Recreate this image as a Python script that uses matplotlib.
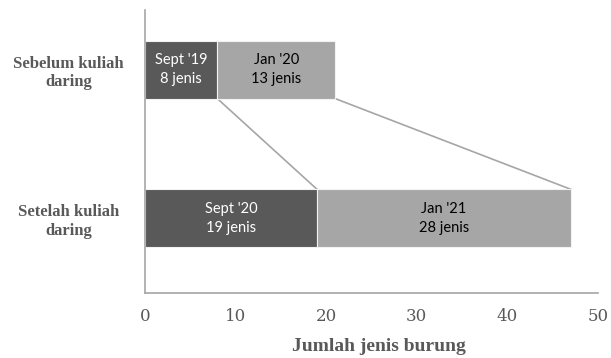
import matplotlib.pyplot as plt

categories = ['Setelah kuliah\ndaring', 'Sebelum kuliah\ndaring']
first_vals = [19, 8]
second_vals = [28, 13]
first_labels = ["Sept '20\n19 jenis", "Sept '19\n8 jenis"]
second_labels = ["Jan '21\n28 jenis", "Jan '20\n13 jenis"]

dark = '#595959'
light = '#a6a6a6'
bar_h = 0.39

fig = plt.figure(figsize=(6.11, 3.58), dpi=100)
ax = fig.add_axes([0.237, 0.182, 0.742, 0.79])

pos = [0, 1]
ax.barh(pos, first_vals, height=bar_h, color=dark, edgecolor='#f2f2f2', linewidth=0.8)
ax.barh(pos, second_vals, left=first_vals, height=bar_h, color=light, edgecolor='#f2f2f2', linewidth=0.8)

for p, a, b, la, lb in zip(pos, first_vals, second_vals, first_labels, second_labels):
    ax.text(a / 2, p, la, ha='center', va='center', color='white',
            fontsize=10.5, family='Lato', linespacing=1.5)
    ax.text(a + b / 2, p, lb, ha='center', va='center', color='black',
            fontsize=10.5, family='Lato', linespacing=1.5)

# connector lines between the bars
for i in range(2):
    x_top = first_vals[1] + (second_vals[1] if i else 0)
    x_bot = first_vals[0] + (second_vals[0] if i else 0)
    ax.plot([x_top, x_bot], [1 - bar_h / 2, bar_h / 2], color=light, lw=1.2, zorder=0)

ax.set_xlim(0, 50)
ax.set_ylim(-0.5, 1.4)
ax.set_xticks(range(0, 51, 10))
ax.set_yticks(pos)
ax.set_yticklabels(categories, fontsize=12, fontweight='bold', family='Liberation Serif',
                   color=dark, linespacing=1.2)
for t in ax.get_yticklabels():
    t.set_horizontalalignment('center')
ax.tick_params(axis='y', length=0, pad=55)
ax.tick_params(axis='x', length=0, pad=11, labelsize=12, labelcolor=dark)
for t in ax.get_xticklabels():
    t.set_family('DejaVu Serif')
ax.set_xlabel('Jumlah jenis burung', fontsize=14, fontweight='bold',
              family='Liberation Serif', color=dark, labelpad=11)
ax.xaxis.set_label_coords(0.517, -0.16)

for s in ['top', 'right']:
    ax.spines[s].set_visible(False)
for s in ['left', 'bottom']:
    ax.spines[s].set_color(light)
    ax.spines[s].set_linewidth(1.2)

fig.savefig('out.png', dpi=100)
